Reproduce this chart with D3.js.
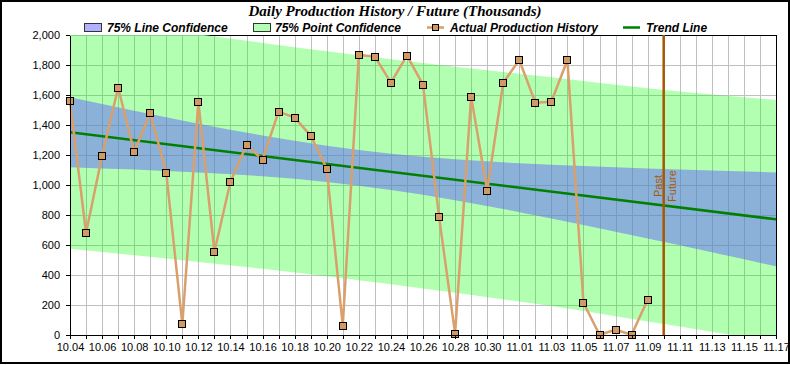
<!DOCTYPE html>
<html><head><meta charset="utf-8">
<script src="https://cdn.jsdelivr.net/npm/d3@7"></script>
<style>body{margin:0;background:#fff}svg{display:block}</style>
</head><body>
<svg id="chart" width="790" height="365"></svg>
<script>
// ---- data ----
const categories = ["10.04","10.05","10.06","10.07","10.08","10.09","10.10","10.11","10.12","10.13","10.14","10.15","10.16","10.17","10.18","10.19","10.20","10.21","10.22","10.23","10.24","10.25","10.26","10.27","10.28","10.29","10.30","10.31","11.01","11.02","11.03","11.04","11.05","11.06","11.07","11.08","11.09"];
const actualValues = [1560,680,1195,1650,1220,1480,1080,73,1555,555,1022,1267,1169,1489,1449,1329,1109,62,1867,1856,1682,1862,1669,789,9,1589,962,1682,1833,1549,1555,1833,215,2,35,2,235];
const trendDates = ["10.04","11.17"];
const trendValues = [1352,771];
const bandDates = ["10.04","10.08","10.12","10.16","10.20","10.24","10.28","11.01","11.05","11.09","11.13","11.17"];
const lineUpper = [1585,1495,1409,1330,1262,1209,1171,1145,1126,1110,1096,1084];
const lineLower = [1119,1103,1083,1058,1020,967,899,819,734,644,552,458];
const pointUpper = [2129,2066,2005,1947,1891,1838,1788,1741,1694,1645,1604,1567];
const pointLower = [575,532,487,441,391,338,282,223,160,90,22,-48];
const xTickLabels = ["10.04","10.06","10.08","10.10","10.12","10.14","10.16","10.18","10.20","10.22","10.24","10.26","10.28","10.30","11.01","11.03","11.05","11.07","11.09","11.11","11.13","11.15","11.17"];
const yTicks = [0,200,400,600,800,1000,1200,1400,1600,1800,2000];
const dividerDate = "11.10";
const titleText = "Daily Production History / Future (Thousands)";
const legendLabels = ["75% Line Confidence","75% Point Confidence","Actual Production History","Trend Line"];

// ---- helpers ----
const parse = s => { const [m,d] = s.split(".").map(Number); return new Date(Date.UTC(2023, m-1, d)); };
const fmt = d3.utcFormat("%m.%d");

const svg = d3.select("#chart");
const L = 70, R = 776, T = 35, B = 335;
const x = d3.scaleUtc().domain([parse("10.04"), parse("11.17")]).range([L, R]);
const y = d3.scaleLinear().domain([0, 2000]).range([B, T]);

svg.append("rect").attr("x",1).attr("y",1).attr("width",788).attr("height",362)
  .attr("fill","#fff").attr("stroke","#000").attr("stroke-width",2);

const defs = svg.append("defs");
defs.append("clipPath").attr("id","plotclip").append("rect")
  .attr("x",L).attr("y",T).attr("width",R-L).attr("height",B-T);

// grid
const allDays = d3.utcDay.range(parse("10.04"), d3.utcDay.offset(parse("11.17"),1));
const grid = svg.append("g").attr("shape-rendering","crispEdges");
grid.selectAll("line.v").data(allDays).join("line").attr("class","v")
  .attr("x1",d=>Math.round(x(d))+0.5).attr("x2",d=>Math.round(x(d))+0.5)
  .attr("y1",T).attr("y2",B).attr("stroke","#c0c0c0");
grid.selectAll("line.h").data(yTicks).join("line").attr("class","h")
  .attr("y1",d=>Math.round(y(d))+0.5).attr("y2",d=>Math.round(y(d))+0.5)
  .attr("x1",L).attr("x2",R).attr("stroke","#c0c0c0");

// bands
const bandData = bandDates.map((d,i)=>({d:parse(d), lu:lineUpper[i], ll:lineLower[i], pu:pointUpper[i], pl:pointLower[i]}));
const pointArea = d3.area().x(d=>x(d.d)).y0(d=>y(d.pl)).y1(d=>y(d.pu)).curve(d3.curveMonotoneX);
const lineArea = d3.area().x(d=>x(d.d)).y0(d=>y(d.ll)).y1(d=>y(d.lu)).curve(d3.curveMonotoneX);
const mask = defs.append("mask").attr("id","framemask");
mask.append("rect").attr("x",0).attr("y",0).attr("width",790).attr("height",365).attr("fill","#fff");
mask.append("path").datum(bandData).attr("d",pointArea).attr("fill","#000");
svg.append("path").attr("d",`M${L},${T+0.5}H${R+0.5}V${B}`).attr("fill","none")
  .attr("stroke","#000").attr("mask","url(#framemask)").attr("shape-rendering","crispEdges");

const plot = svg.append("g").attr("clip-path","url(#plotclip)");
plot.append("path").datum(bandData).attr("d",pointArea).attr("fill","rgb(0,255,0)").attr("fill-opacity",0.3);
plot.append("path").datum(bandData).attr("d",lineArea).attr("fill","rgb(100,100,255)").attr("fill-opacity",0.5);

// trend
const trendData = trendDates.map((d,i)=>({d:parse(d), v:trendValues[i]}));
plot.append("path").datum(trendData)
  .attr("d", d3.line().x(d=>x(d.d)).y(d=>y(d.v)))
  .attr("fill","none").attr("stroke","#008000").attr("stroke-width",2.5);

// actual
const actual = categories.map((c,i)=>({d:parse(c), v:actualValues[i]}));
svg.append("path").datum(actual)
  .attr("d", d3.line().x(d=>x(d.d)).y(d=>y(d.v)))
  .attr("fill","none").attr("stroke","#d9a06c").attr("stroke-width",2.5).attr("stroke-linejoin","round");
svg.selectAll("rect.mk").data(actual).join("rect").attr("class","mk")
  .attr("x",d=>Math.round(x(d.d))-3.5).attr("y",d=>Math.round(y(d.v))-3.5)
  .attr("width",7).attr("height",7).attr("fill","#d09a62").attr("stroke","#000").attr("stroke-width",1);

// divider
const xd = x(parse(dividerDate));
svg.append("line").attr("x1",xd).attr("x2",xd).attr("y1",T).attr("y2",B)
  .attr("stroke","#a85800").attr("stroke-width",2.5);
svg.append("text").attr("transform",`translate(${xd-2},186) rotate(-90)`)
  .attr("text-anchor","middle").attr("font-family","Liberation Sans, Arial, sans-serif")
  .attr("font-size",11).attr("fill","#a85800").text("Past");
svg.append("text").attr("transform",`translate(${xd+12},186) rotate(-90)`)
  .attr("text-anchor","middle").attr("font-family","Liberation Sans, Arial, sans-serif")
  .attr("font-size",11).attr("fill","#a85800").text("Future");

// axes
const xAxis = d3.axisBottom(x)
  .tickValues(allDays).tickSize(4).tickSizeOuter(0)
  .tickFormat(d => xTickLabels.includes(fmt(d)) ? fmt(d) : "");
const gx = svg.append("g").attr("transform",`translate(0,${B})`).call(xAxis);
const yAxis = d3.axisLeft(y).tickValues(yTicks).tickSize(4).tickSizeOuter(0).tickFormat(d3.format(","));
const gy = svg.append("g").attr("transform",`translate(${L},0)`).call(yAxis);
[gx,gy].forEach(g=>{
  g.selectAll("text").attr("font-family","Liberation Sans, Arial, sans-serif").attr("font-size",11).attr("fill","#000");
  g.selectAll("line,path").attr("stroke","#000").attr("shape-rendering","crispEdges");
});
gx.selectAll("text").attr("dy","0.78em");
gy.selectAll("text").attr("dx","-3");

// title
svg.append("text").attr("x",395).attr("y",16).attr("text-anchor","middle")
  .attr("font-family","Liberation Serif, Times New Roman, serif").attr("font-size",15)
  .attr("font-weight","bold").attr("font-style","italic").text(titleText);

// legend
const lg = svg.append("g").attr("font-family","Liberation Sans, Arial, sans-serif")
  .attr("font-size",12).attr("font-weight","bold").attr("font-style","italic");
lg.append("rect").attr("x",84.5).attr("y",23.5).attr("width",17).attr("height",8)
  .attr("fill","rgb(100,100,255)").attr("fill-opacity",0.5).attr("stroke","#333");
lg.append("text").attr("x",107).attr("y",32).text(legendLabels[0]);
lg.append("rect").attr("x",253.5).attr("y",23.5).attr("width",17).attr("height",8)
  .attr("fill","rgb(0,255,0)").attr("fill-opacity",0.3).attr("stroke","#333");
lg.append("text").attr("x",275).attr("y",32).text(legendLabels[1]);
lg.append("line").attr("x1",427).attr("x2",444).attr("y1",27.5).attr("y2",27.5).attr("stroke","#d9a06c").attr("stroke-width",2.5);
lg.append("rect").attr("x",432.5).attr("y",24.5).attr("width",6).attr("height",6).attr("fill","#d09a62").attr("stroke","#000");
lg.append("text").attr("x",450).attr("y",32).text(legendLabels[2]);
lg.append("line").attr("x1",623).attr("x2",640).attr("y1",27.5).attr("y2",27.5).attr("stroke","#008000").attr("stroke-width",2.5);
lg.append("text").attr("x",646).attr("y",32).text(legendLabels[3]);
</script>
</body></html>
